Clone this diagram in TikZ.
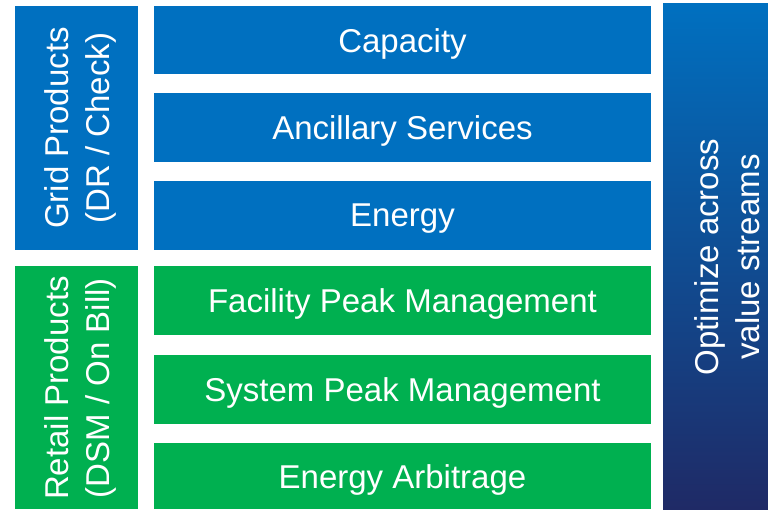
\documentclass[tikz,border=0pt]{standalone}
\usepackage{fontspec}
\setmainfont{Liberation Sans}
\definecolor{gblue}{HTML}{0070C0}
\definecolor{ggreen}{HTML}{00B050}
\definecolor{gtop}{HTML}{0070C0}
\definecolor{gmid}{HTML}{0000FF}
\definecolor{gbot}{HTML}{1F2A66}
\begin{document}
\begin{tikzpicture}[x=1pt,y=-1pt,
  every node/.style={inner sep=0pt, outer sep=0pt, text=white, font=\fontsize{33}{41}\selectfont},
  bluebox/.style={fill=gblue},
  greenbox/.style={fill=ggreen},
  vtext/.style={rotate=90, align=center}]
\useasboundingbox (0,0) rectangle (768,509);
% left category boxes
\fill[bluebox] (15,6) rectangle (138,250);
\fill[greenbox] (15,266) rectangle (138,509);
\node[vtext] (grid) at (80,128) {Grid Products\\(DR / Check)};
\node[vtext] (retail) at (80,388) {Retail Products\\(DSM / On Bill)};
% middle boxes
\fill[bluebox] (154,6) rectangle (651,74);
\node (cap) at (402.5,44) {Capacity};
\fill[bluebox] (154,93) rectangle (651,162);
\node (anc) at (402.5,131) {Ancillary Services};
\fill[bluebox] (154,181) rectangle (651,250);
\node (ene) at (402.5,219) {Energy};
\fill[greenbox] (154,266) rectangle (651,335);
\node (fac) at (402.5,304) {Facility Peak Management};
\fill[greenbox] (154,355) rectangle (651,424);
\node (sys) at (402.5,393) {System Peak Management};
\fill[greenbox] (154,443) rectangle (651,509);
\node (arb) at (402.5,480) {Energy Arbitrage};
% right optimize bar
\shade[top color=gtop, middle color=gmid, bottom color=gbot] (663,3) rectangle (768,509);
\node[vtext] (opt) at (727,257) {Optimize across\\value streams};
\end{tikzpicture}
\end{document}
